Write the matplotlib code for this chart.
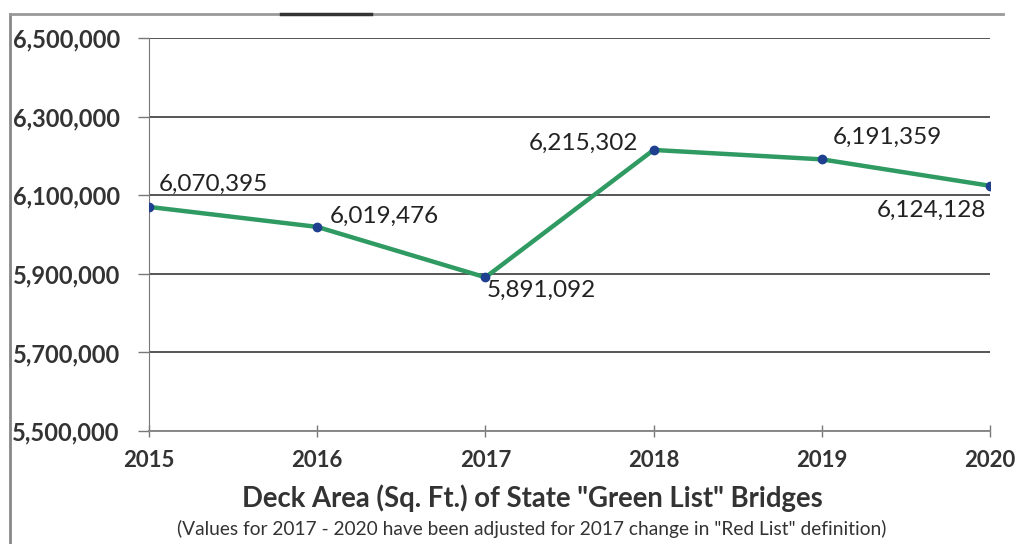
import matplotlib
matplotlib.use("Agg")
import matplotlib.pyplot as plt
from matplotlib.lines import Line2D

years = [2015, 2016, 2017, 2018, 2019, 2020]
deck_area = [6070395, 6019476, 5891092, 6215302, 6191359, 6124128]
y_ticks = [5500000, 5700000, 5900000, 6100000, 6300000, 6500000]

title = 'Deck Area (Sq. Ft.) of State "Green List" Bridges'
subtitle = '(Values for 2017 - 2020 have been adjusted for 2017 change in "Red List" definition)'

plt.rcParams['font.family'] = ['Lato', 'DejaVu Sans']

fig = plt.figure(figsize=(10.18, 5.44), dpi=100)
ax = fig.add_axes([0.1464, 0.2077, 0.8261, 0.7223])

ax.plot(years, deck_area, color='#2f9a62', lw=3.2, zorder=3, solid_capstyle='round')
ax.plot(years, deck_area, 'o', color='#1f3f8f', ms=6, zorder=4)

ax.set_xlim(years[0], years[-1])
ax.set_ylim(y_ticks[0], y_ticks[-1])
ax.set_xticks(years)
ax.set_xticklabels([str(y) for y in years], fontsize=16, fontweight='bold', color='#333333')
ax.set_yticks(y_ticks)
ax.set_yticklabels([f'{v:,}' for v in y_ticks], fontsize=17, fontweight='bold', color='#333333')
ax.tick_params(axis='y', length=8, width=1, color='#777777', pad=13)
ax.tick_params(axis='x', length=8, width=1, color='#777777', pad=10, direction='inout')

ax.grid(axis='y', color='#555555', lw=1.4)
ax.set_axisbelow(True)
for s in ['top', 'right']:
    ax.spines[s].set_visible(False)
ax.spines['left'].set_color('#777777')
ax.spines['bottom'].set_color('#888888')
ax.spines['bottom'].set_linewidth(1.4)

# value labels: (x offset, y offset, ha, va) in points
offsets = [
    (7, 9, 'left', 'bottom'),
    (9, 0, 'left', 'bottom'),
    (1, -2, 'left', 'top'),
    (-11, -3, 'right', 'bottom'),
    (8, 8, 'left', 'bottom'),
    (-3, -10, 'right', 'top'),
]
for x, v, (dx, dy, ha, va) in zip(years, deck_area, offsets):
    ax.annotate(f'{v:,}', (x, v), xytext=(dx, dy), textcoords='offset points',
                ha=ha, va=va, fontsize=17.5, color='#222222', zorder=5)

fig.text(0.523, 0.084, title, ha='center', va='center', fontsize=19.8,
         fontweight='bold', color='#333333')
fig.text(0.522, 0.028, subtitle, ha='center', va='center', fontsize=13.8,
         color='#333333')

# outer chart frame
fig.add_artist(Line2D([0.010, 0.010], [0.0, 0.975], transform=fig.transFigure,
                      color='#888888', lw=2))
fig.add_artist(Line2D([0.010, 0.985], [0.975, 0.975], transform=fig.transFigure,
                      color='#999999', lw=2))
fig.add_artist(Line2D([0.276, 0.364], [0.975, 0.975], transform=fig.transFigure,
                      color='#333333', lw=2.5))

fig.savefig('out.png', dpi=100, facecolor='white')
